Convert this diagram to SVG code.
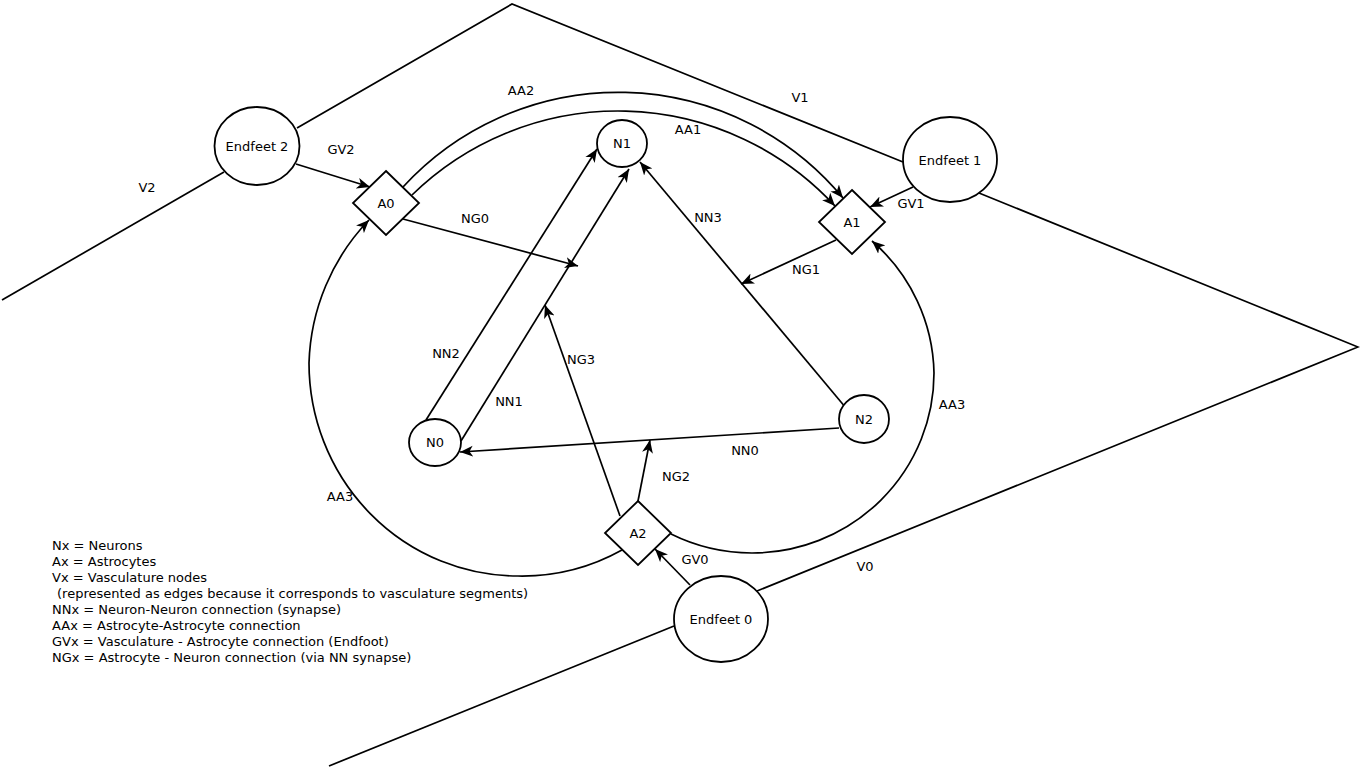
<svg xmlns="http://www.w3.org/2000/svg" width="1360" height="768" viewBox="0 0 1360 768">
<defs>
<style>
.ln{fill:none;stroke:#000;stroke-width:1.7;stroke-linejoin:miter}
.ar{marker-end:url(#ah)}
.nd{fill:#fff;stroke:#000;stroke-width:1.8}
text{font-family:"DejaVu Sans","Liberation Sans",sans-serif;font-size:13px;fill:#000}
.c{text-anchor:middle}
</style>
<marker id="ah" viewBox="-13 -6 14 12" markerWidth="14" markerHeight="12" refX="0" refY="0" orient="auto" markerUnits="userSpaceOnUse">
<path d="M0,0 L-13,-5.5 L-9.5,0 L-13,5.5 z" fill="#000"/>
</marker>
</defs>
<rect width="1360" height="768" fill="#fff"/>
<g id="connectors">
<polyline class="ln" points="2,300 224,172"/>
<polyline class="ln" points="297,128 512,4 903,162"/>
<polyline class="ln" points="979,193 1358,347 757,591"/>
<polyline class="ln" points="674,626 329,766"/>
<line class="ln ar" x1="296" y1="164" x2="370" y2="187"/>
<line class="ln ar" x1="913" y1="187" x2="870" y2="207"/>
<line class="ln ar" x1="690" y1="585" x2="655" y2="549"/>
<line class="ln ar" x1="403" y1="219" x2="578" y2="266"/>
<line class="ln ar" x1="836" y1="240" x2="741" y2="284"/>
<line class="ln ar" x1="638" y1="501" x2="650" y2="440"/>
<line class="ln ar" x1="620" y1="516" x2="545" y2="305"/>
<line class="ln ar" x1="839" y1="428" x2="460" y2="452"/>
<line class="ln ar" x1="461" y1="441" x2="629" y2="169"/>
<line class="ln ar" x1="426" y1="420" x2="597" y2="149"/>
<line class="ln ar" x1="846" y1="408" x2="640" y2="162"/>
<path class="ln ar" d="M403,187 A292,292 0 0,1 843,198"/>
<path class="ln ar" d="M412,195 A295,295 0 0,1 835,206"/>
<path class="ln ar" d="M622,550 A209,213 0 0,1 518,576 A209,213 0 0,1 309,363 A209,213 0 0,1 369,220"/>
<path class="ln ar" d="M671,534 A182,180 0 0,0 752,553 A182,180 0 0,0 934,373 A182,180 0 0,0 872,241"/>
<text class="c" x="341" y="154">GV2</text>
<text class="c" x="911" y="208">GV1</text>
<text class="c" x="695" y="564">GV0</text>
<text class="c" x="521" y="95">AA2</text>
<text class="c" x="688" y="134">AA1</text>
<text class="c" x="800" y="102">V1</text>
<text class="c" x="147" y="192">V2</text>
<text class="c" x="865" y="571">V0</text>
<text class="c" x="475" y="223">NG0</text>
<text class="c" x="708" y="222">NN3</text>
<text class="c" x="806" y="274">NG1</text>
<text class="c" x="446" y="358">NN2</text>
<text class="c" x="581" y="364">NG3</text>
<text class="c" x="509" y="406">NN1</text>
<text class="c" x="952" y="409">AA3</text>
<text class="c" x="745" y="455">NN0</text>
<text class="c" x="676" y="481">NG2</text>
<text class="c" x="340" y="501">AA3</text>
</g>
<g id="Endfeet2"><ellipse class="nd" cx="257" cy="146" rx="42.5" ry="39"/><text class="c" x="257" y="150.5">Endfeet 2</text></g>
<g id="Endfeet1"><ellipse class="nd" cx="950" cy="159.5" rx="47" ry="42.5"/><text class="c" x="950" y="164.5">Endfeet 1</text></g>
<g id="Endfeet0"><ellipse class="nd" cx="721" cy="619" rx="47" ry="43"/><text class="c" x="721" y="623.5">Endfeet 0</text></g>
<g id="A0"><polygon class="nd" points="386,171 419,203 386,235 353,203"/><text class="c" x="386" y="207.5">A0</text></g>
<g id="A1"><polygon class="nd" points="852,190 885,222 852,254 819,222"/><text class="c" x="852" y="226.5">A1</text></g>
<g id="A2"><polygon class="nd" points="638,501 671,533 638,565 605,533"/><text class="c" x="638" y="537.5">A2</text></g>
<g id="N1"><ellipse class="nd" cx="622" cy="143.5" rx="25" ry="23.5"/><text class="c" x="622" y="148">N1</text></g>
<g id="N0"><ellipse class="nd" cx="435" cy="442.5" rx="26" ry="23.5"/><text class="c" x="435" y="447">N0</text></g>
<g id="N2"><ellipse class="nd" cx="864" cy="419" rx="25" ry="24"/><text class="c" x="864" y="423.5">N2</text></g>
<g id="legend">
<text x="52" y="550">Nx = Neurons</text>
<text x="52" y="566">Ax = Astrocytes</text>
<text x="52" y="582">Vx = Vasculature nodes</text>
<text x="57" y="598">(represented as edges because it corresponds to vasculature segments)</text>
<text x="52" y="614">NNx = Neuron-Neuron connection (synapse)</text>
<text x="52" y="630">AAx = Astrocyte-Astrocyte connection</text>
<text x="52" y="646">GVx = Vasculature - Astrocyte connection (Endfoot)</text>
<text x="52" y="662">NGx = Astrocyte - Neuron connection (via NN synapse)</text>
</g>
</svg>
